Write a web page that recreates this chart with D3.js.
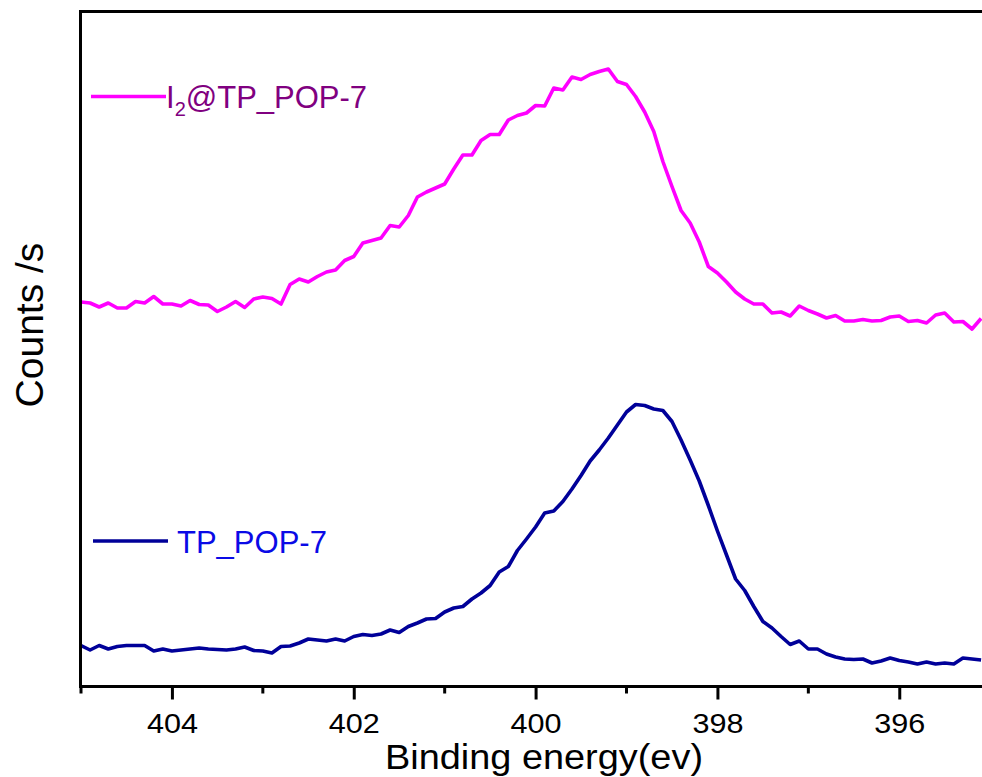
<!DOCTYPE html>
<html>
<head>
<meta charset="utf-8">
<script src="https://cdn.jsdelivr.net/npm/d3@7/dist/d3.min.js"></script>
<style>
  html, body { margin: 0; padding: 0; background: #ffffff; }
  svg { display: block; }
  text { font-family: "Liberation Sans", Arial, sans-serif; }
</style>
</head>
<body>
<svg id="chart" width="982" height="777"></svg>
<script>
// XPS N 1s spectra, binding energy from 405.0 eV down in 0.1 eV steps
const energyStart = 405.0;
const energyStep = 0.1;

// I2@TP_POP-7 counts (offset spectrum, upper trace)
const iodineLoaded = [
  7690, 7670, 7590, 7670, 7570, 7570, 7700, 7670, 7800, 7650,
  7650, 7610, 7720, 7640, 7630, 7500, 7590, 7700, 7580, 7750,
  7790, 7760, 7650, 8040, 8150, 8090, 8200, 8290, 8330, 8520,
  8600, 8870, 8920, 8970, 9220, 9190, 9420, 9790, 9890, 9970,
  10050, 10350, 10630, 10630, 10920, 11040, 11040, 11330, 11420, 11470,
  11620, 11610, 11970, 11930, 12190, 12140, 12240, 12300, 12350, 12100,
  12040, 11800, 11490, 11100, 10500, 10000, 9520, 9270, 8890, 8400,
  8270, 8090, 7890, 7750, 7650, 7650, 7470, 7490, 7410, 7610,
  7520, 7450, 7370, 7420, 7310, 7310, 7340, 7310, 7320, 7390,
  7410, 7300, 7320, 7270, 7430, 7470, 7290, 7300, 7150, 7360
];

// TP_POP-7 counts (lower trace)
const pristine = [
  820, 730, 820, 750, 800, 820, 820, 820, 710, 750,
  710, 730, 750, 770, 750, 740, 730, 750, 790, 720,
  710, 670, 800, 810, 870, 950, 930, 910, 950, 910,
  1000, 1040, 1020, 1050, 1130, 1080, 1200, 1270, 1350, 1360,
  1490, 1570, 1600, 1750, 1870, 2020, 2290, 2400, 2720, 2950,
  3190, 3470, 3510, 3700, 3950, 4220, 4510, 4730, 4970, 5230,
  5490, 5640, 5620, 5550, 5520, 5300, 4930, 4530, 4110, 3620,
  3110, 2630, 2150, 1920, 1600, 1300, 1170, 1000, 840, 910,
  750, 750, 650, 590, 550, 540, 550, 470, 510, 570,
  520, 490, 450, 490, 450, 470, 450, 570, 550, 530
];

const xTicks = [404, 402, 400, 398, 396];
const xMinorTicks = [405, 403, 401, 399, 397, 395];

const seriesNames = ["I\u2082@TP_POP-7", "TP_POP-7"];
const lineColors = ["#ff00ff", "#000099"];
const labelColors = ["#800080", "#0a0ae6"];

const svg = d3.select("#chart");
const W = 982, H = 777;
const plot = { left: 81, right: 982, top: 11.5, bottom: 686.5 };

const x = d3.scaleLinear().domain([405, 395.09]).range([plot.left, plot.right]);
const y = d3.scaleLinear().domain([0, 13500]).range([plot.bottom, plot.top]);

const energy = i => +(energyStart - i * energyStep).toFixed(1);

svg.append("defs").append("clipPath").attr("id", "plotClip")
  .append("rect")
  .attr("x", plot.left).attr("y", plot.top)
  .attr("width", plot.right - plot.left).attr("height", plot.bottom - plot.top);

const line = d3.line()
  .x((d, i) => x(energy(i)))
  .y(d => y(d));

const traces = svg.append("g").attr("clip-path", "url(#plotClip)");
[iodineLoaded, pristine].forEach((vals, k) => {
  traces.append("path")
    .datum(vals)
    .attr("d", line)
    .attr("fill", "none")
    .attr("stroke", lineColors[k])
    .attr("stroke-width", 3.6)
    .attr("stroke-linejoin", "round");
});

// Frame: left and top borders
svg.append("line")
  .attr("x1", 80.5).attr("x2", 80.5).attr("y1", plot.top - 1.5).attr("y2", plot.bottom + 1.5)
  .attr("stroke", "#000").attr("stroke-width", 3);
svg.append("line")
  .attr("x1", 79).attr("x2", W).attr("y1", plot.top).attr("y2", plot.top)
  .attr("stroke", "#000").attr("stroke-width", 3);

// Bottom axis
const xAxis = d3.axisBottom(x)
  .tickValues(xTicks)
  .tickSize(13)
  .tickPadding(14)
  .tickFormat(d3.format("d"));

const gx = svg.append("g")
  .attr("transform", `translate(0,${plot.bottom})`)
  .call(xAxis);
gx.select(".domain").remove();
gx.selectAll(".tick line").attr("stroke", "#000").attr("stroke-width", 3);
gx.selectAll(".tick text")
  .attr("fill", "#000")
  .style("font-size", "28px")
  .style("font-family", "'Liberation Sans', Arial, sans-serif")
  .attr("textLength", 51)
  .attr("lengthAdjust", "spacingAndGlyphs");

svg.append("line")
  .attr("x1", 79).attr("x2", W).attr("y1", plot.bottom).attr("y2", plot.bottom)
  .attr("stroke", "#000").attr("stroke-width", 3);

svg.append("g").selectAll("line.minor")
  .data(xMinorTicks)
  .join("line")
  .attr("class", "minor")
  .attr("x1", d => x(d)).attr("x2", d => x(d))
  .attr("y1", plot.bottom).attr("y2", plot.bottom + 7)
  .attr("stroke", "#000").attr("stroke-width", 3);

// Axis titles
svg.append("text")
  .attr("x", 544).attr("y", 769)
  .attr("text-anchor", "middle")
  .attr("fill", "#000")
  .style("font-size", "35px")
  .attr("textLength", 318)
  .attr("lengthAdjust", "spacingAndGlyphs")
  .text("Binding energy(ev)");

svg.append("text")
  .attr("transform", "translate(43,325) rotate(-90)")
  .attr("text-anchor", "middle")
  .attr("fill", "#000")
  .style("font-size", "39px")
  .text("Counts /s");

// Legends
const leg1 = svg.append("g");
leg1.append("line")
  .attr("x1", 91).attr("x2", 166).attr("y1", 96.5).attr("y2", 96.5)
  .attr("stroke", lineColors[0]).attr("stroke-width", 3.6);
const t1 = leg1.append("text")
  .attr("x", 166).attr("y", 107.5)
  .attr("fill", labelColors[0])
  .style("font-size", "31px");
t1.append("tspan").text("I");
t1.append("tspan").attr("dy", 8).style("font-size", "20px").text("2");
t1.append("tspan").attr("dy", -8).text("@TP_POP-7");

const leg2 = svg.append("g");
leg2.append("line")
  .attr("x1", 93).attr("x2", 168).attr("y1", 541).attr("y2", 541)
  .attr("stroke", lineColors[1]).attr("stroke-width", 3.6);
leg2.append("text")
  .attr("x", 177).attr("y", 552.5)
  .attr("fill", labelColors[1])
  .style("font-size", "31px")
  .text(seriesNames[1]);
</script>
</body>
</html>
